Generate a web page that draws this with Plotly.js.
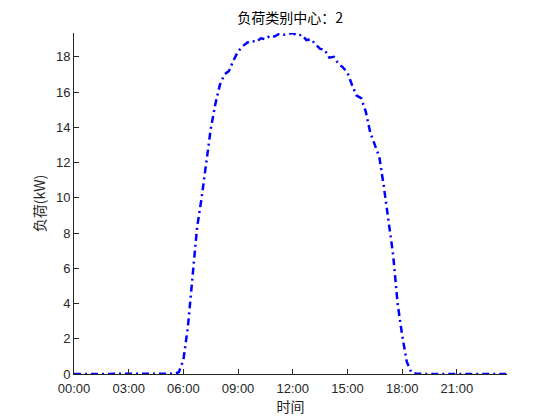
<!DOCTYPE html>
<html>
<head>
<meta charset="utf-8">
<script src="https://cdn.plot.ly/plotly-3.0.1.min.js"></script>
<style>html,body{margin:0;padding:0;background:#fff;}#chart{width:560px;height:420px;}</style>
</head>
<body>
<div id="chart"></div>
<script>
// Time of day in hours (15-minute steps)
const hours = [];
for (let i = 0; i < 96; i++) hours.push(i * 0.25);

// Load of cluster centre 2 (kW)
const load = [
  0,0,0,0,0,0,0,0,0,0,0,0,0,0,0,0,0,0,0,0,0,0,
  0.02,0.1,0.8,2.7,5.5,8.3,10.0,12.0,13.9,15.3,16.4,17.0,17.2,17.8,18.3,18.6,18.8,18.9,
  18.85,19.05,19.0,19.2,19.15,19.3,19.25,19.3,19.35,19.2,19.25,18.95,19.0,18.7,18.45,18.4,
  17.95,18.0,17.6,17.4,17.1,16.4,15.8,15.65,14.9,13.7,12.95,12.3,10.6,8.7,6.8,4.0,2.2,0.7,
  0.1,0.02,0,0,0,0,0,0,0,0,0,0,0,0,0,0,0,0,0,0,0,0
];

const tickVals = [0, 3, 6, 9, 12, 15, 18, 21];
const tickText = ["00:00","03:00","06:00","09:00","12:00","15:00","18:00","21:00"];
const yTicks = [0, 2, 4, 6, 8, 10, 12, 14, 16, 18];

const axisFont = {family: "Liberation Sans, Arial, sans-serif", size: 13, color: "#262626"};
const cjkFont = {family: "Noto Sans CJK SC, sans-serif", size: 14, color: "#262626"};

Plotly.newPlot("chart", [{
  x: hours,
  y: load,
  type: "scatter",
  mode: "lines",
  line: {color: "#0000ff", width: 2.5, dash: "7px,4px,2px,4px"},
  hoverinfo: "none"
}], {
  width: 560,
  height: 420,
  margin: {l: 74, r: 53, t: 33, b: 46},
  paper_bgcolor: "#ffffff",
  plot_bgcolor: "#ffffff",
  showlegend: false,
  title: {text: "负荷类别中心：2", font: {family: "Noto Sans CJK SC, sans-serif", size: 14, color: "#000"},
          x: 0.518, xanchor: "center", y: 0.957, yanchor: "middle", yref: "container"},
  xaxis: {
    range: [0, 23.75],
    tickvals: tickVals,
    ticktext: tickText,
    ticks: "inside",
    ticklen: 5,
    tickcolor: "#262626",
    showline: true,
    linecolor: "#262626",
    linewidth: 1,
    showgrid: false,
    zeroline: false,
    tickfont: axisFont,
    ticklabelstandoff: 2,
    title: {text: "时间", font: cjkFont, standoff: 4}
  },
  yaxis: {
    range: [0, 19.35],
    tickvals: yTicks,
    ticks: "inside",
    ticklen: 5,
    tickcolor: "#262626",
    showline: true,
    linecolor: "#262626",
    linewidth: 1,
    showgrid: false,
    zeroline: false,
    tickfont: axisFont,
    title: {text: "负荷(kW)", font: cjkFont, standoff: 7}
  }
}, {staticPlot: true, displayModeBar: false});
</script>
</body>
</html>
